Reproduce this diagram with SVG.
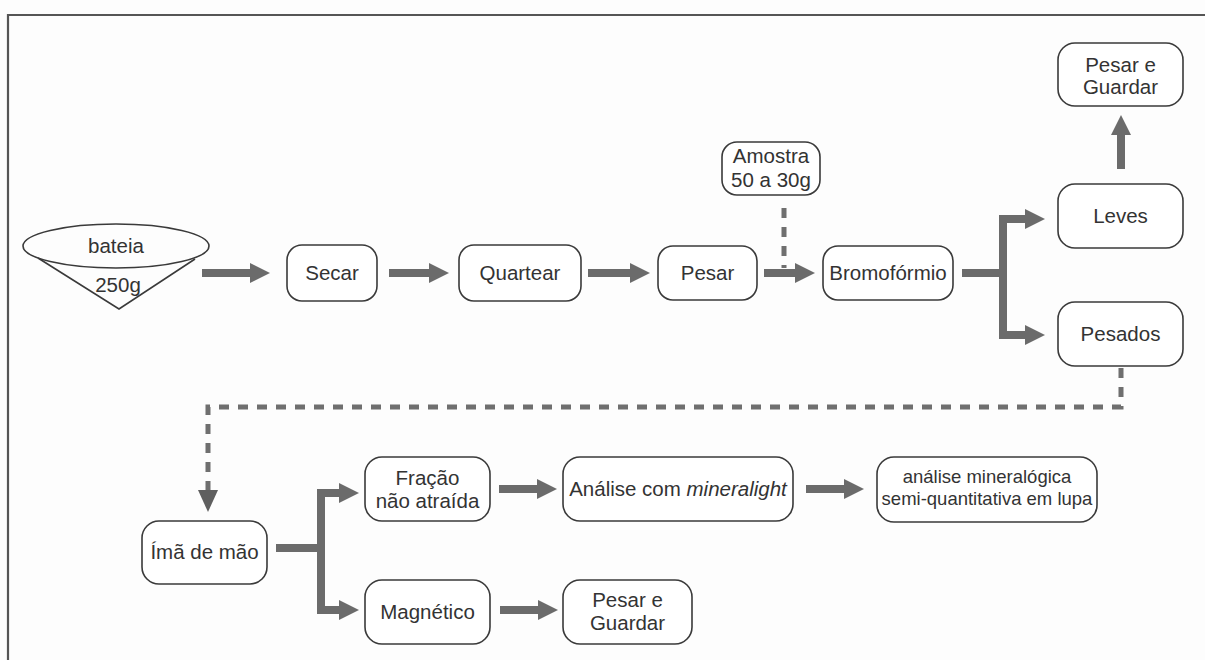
<svg xmlns="http://www.w3.org/2000/svg" width="1205" height="660" viewBox="0 0 1205 660">
<defs>
<marker id="ah" markerUnits="userSpaceOnUse" markerWidth="20" markerHeight="20" refX="0" refY="9" orient="auto-start-reverse" viewBox="0 0 18 18">
<path d="M0 0 L18 9 L0 18 Z" fill="#6b6b6b"/>
</marker>
<marker id="dh" markerUnits="userSpaceOnUse" markerWidth="22" markerHeight="22" refX="0" refY="10" orient="auto" viewBox="0 0 22 20">
<path d="M0 0 L22 10 L0 20 Z" fill="#5f5f5f"/>
</marker>
<style>
.box{fill:#ffffff;stroke:#3a3a3a;stroke-width:1.6}
.t{font-family:"Liberation Sans",Arial,sans-serif;font-size:20.5px;fill:#333;text-anchor:middle}
.s{font-size:18.5px}
.a{fill:none;stroke:#6b6b6b;stroke-width:8;stroke-linejoin:miter}
.d{fill:none;stroke:#6f6f6f;stroke-width:5;stroke-dasharray:10 9}
</style>
</defs>
<rect x="0" y="0" width="1205" height="660" fill="#fdfdfd"/>
<path d="M8 680 V15 H1220" fill="none" stroke="#555" stroke-width="2.2"/>

<g id="connectors">
<line class="a" x1="202" y1="273" x2="250" y2="273" marker-end="url(#ah)"/>
<line class="a" x1="389" y1="273" x2="429" y2="273" marker-end="url(#ah)"/>
<line class="a" x1="588" y1="273" x2="630" y2="273" marker-end="url(#ah)"/>
<line class="d" x1="784" y1="208" x2="784" y2="268"/>
<line class="a" x1="764" y1="273" x2="795" y2="273" marker-end="url(#ah)"/>
<line class="a" x1="962" y1="273" x2="1003" y2="273"/>
<path class="a" d="M1025 219 H1003 V335 H1025" marker-start="url(#ah)" marker-end="url(#ah)"/>
<line class="a" x1="1121" y1="169" x2="1121" y2="135" marker-end="url(#ah)"/>
<path class="d" d="M1121 368 V407 H208 V490" marker-end="url(#dh)"/>
<line class="a" x1="276" y1="548" x2="321" y2="548"/>
<path class="a" d="M339 493 H321 V610 H339" marker-start="url(#ah)" marker-end="url(#ah)"/>
<line class="a" x1="499" y1="489" x2="537" y2="489" marker-end="url(#ah)"/>
<line class="a" x1="806" y1="489" x2="844" y2="489" marker-end="url(#ah)"/>
<line class="a" x1="500" y1="610" x2="538" y2="610" marker-end="url(#ah)"/>
</g>

<g id="bateia">
<path d="M38 258 L119 309 L195 259" fill="none" stroke="#3a3a3a" stroke-width="1.6"/>
<ellipse cx="116" cy="246" rx="93" ry="22" fill="none" stroke="#3a3a3a" stroke-width="1.6"/>
<text class="t" x="116" y="253">bateia</text>
<text class="t" x="118" y="292">250g</text>
</g>
<g id="secar"><rect class="box" x="287" y="245" width="90" height="56" rx="15"/><text class="t" x="332" y="280">Secar</text></g>
<g id="quartear"><rect class="box" x="459" y="245" width="122" height="56" rx="15"/><text class="t" x="520" y="280">Quartear</text></g>
<g id="pesar"><rect class="box" x="658" y="246" width="99" height="54" rx="15"/><text class="t" x="707.5" y="280">Pesar</text></g>
<g id="amostra"><rect class="box" x="722" y="142" width="98" height="53" rx="15"/><text class="t" x="771" y="163">Amostra</text><text class="t" x="771" y="187">50 a 30g</text></g>
<g id="bromoformio"><rect class="box" x="823" y="246" width="130" height="54" rx="15"/><text class="t" x="888" y="280">Bromofórmio</text></g>
<g id="pesar-guardar-1"><rect class="box" x="1058" y="43" width="125" height="63" rx="17"/><text class="t" x="1120.5" y="72">Pesar e</text><text class="t" x="1120.5" y="94">Guardar</text></g>
<g id="leves"><rect class="box" x="1058" y="184" width="125" height="64" rx="17"/><text class="t" x="1120.5" y="223">Leves</text></g>
<g id="pesados"><rect class="box" x="1058" y="302" width="125" height="64" rx="17"/><text class="t" x="1120.5" y="341">Pesados</text></g>
<g id="ima"><rect class="box" x="142" y="521" width="125" height="63" rx="17"/><text class="t" x="204.5" y="559">Ímã de mão</text></g>
<g id="fracao"><rect class="box" x="365" y="457" width="125" height="64" rx="17"/><text class="t" x="427.5" y="485">Fração</text><text class="t" x="427.5" y="508">não atraída</text></g>
<g id="analise"><rect class="box" x="563" y="457" width="230" height="64" rx="17"/><text class="t" x="678" y="496">Análise com <tspan font-style="italic">mineralight</tspan></text></g>
<g id="analise-mineralogica"><rect class="box" x="877" y="457" width="220" height="65" rx="17"/><text class="t s" x="987" y="483">análise mineralógica</text><text class="t s" x="987" y="505">semi-quantitativa em lupa</text></g>
<g id="magnetico"><rect class="box" x="365" y="580" width="125" height="64" rx="17"/><text class="t" x="427.5" y="619">Magnético</text></g>
<g id="pesar-guardar-2"><rect class="box" x="563" y="580" width="129" height="64" rx="17"/><text class="t" x="627.5" y="607">Pesar e</text><text class="t" x="627.5" y="630">Guardar</text></g>
</svg>
